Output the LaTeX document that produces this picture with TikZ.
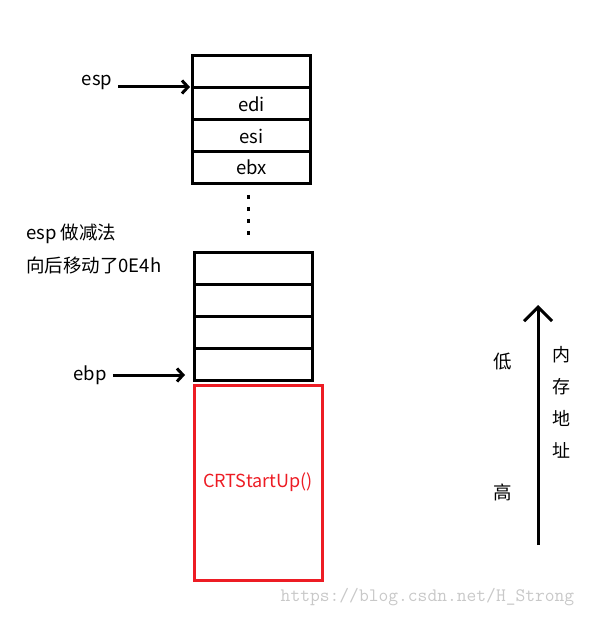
\documentclass[tikz,border=0pt]{standalone}
\usepackage{fontspec}
\setmainfont{Noto Sans CJK SC}
\usetikzlibrary{arrows.meta}
\definecolor{stackred}{RGB}{237,28,36}
\definecolor{markgray}{RGB}{200,200,200}

\tikzset{
  cell/.style={draw, line width=3pt, minimum width=118pt, minimum height=32pt, inner sep=0pt, font=\fontsize{18.5}{22}\selectfont},
  txt/.style={inner sep=2pt, font=\fontsize{18.5}{22}\selectfont},
  ptr/.style={-{Straight Barb[length=6pt,width=13pt]}, line width=3pt, shorten <=4pt},
}

\begin{document}
\begin{tikzpicture}[x=1pt,y=-1pt]
\useasboundingbox (0,0) rectangle (588,617);

% upper part of the stack
\node[cell] (ret) at (251.5,71.5) {};
\node[cell] (edi) at (251.5,104) {edi};
\node[cell] (esi) at (251.5,136) {esi};
\node[cell] (ebx) at (251.5,167.5) {ebx};

% gap in between
\draw[line width=3pt, dash pattern=on 4pt off 8pt] (248,195) -- (248,238);

% lower part of the stack
\node[cell] (loc1) at (253.5,268.5) {};
\node[cell] (loc2) at (253.5,300) {};
\node[cell] (loc3) at (253.5,332) {};
\node[cell] (loc4) at (253.5,364) {};

% caller frame
\node[draw=stackred, line width=3pt, minimum width=128pt, minimum height=195pt, inner sep=0pt,
      text=stackred, font=\fontsize{18}{22}\selectfont] (crt) at (258,482.5) {CRTStartUp()};

% pointers
\node[txt] (esp) at (97,82) {esp};
\coordinate (esptip) at (190,87);
\draw[ptr] (esp.east |- esptip) -- (esptip);
\node[txt] (ebp) at (90,375) {ebp};
\coordinate (ebptip) at (185,375);
\draw[ptr] (ebp.east |- ebptip) -- (ebptip);

% notes
\node[txt, anchor=west] (note1) at (24,234) {esp 做减法};
\node[txt, anchor=west] (note2) at (24,265) {向后移动了0E4h};

% address direction
\coordinate (addrlow) at (538,545);
\coordinate (addrhigh) at (538,305);
\draw[-{Straight Barb[length=14pt,width=28pt]}, line width=3pt] (addrlow) -- (addrhigh);
\node[txt] (low) at (503,362) {低};
\node[txt] (high) at (503,492) {高};
\node[txt, align=center, font=\fontsize{18}{32}\selectfont] (addr) at (561,402) {内\\存\\地\\址};

% watermark
\node[text=markgray, font=\ttfamily\fontsize{19}{20}\selectfont] (mark) at (427.5,597) {https://blog.csdn.net/H\_Strong};
\end{tikzpicture}
\end{document}
